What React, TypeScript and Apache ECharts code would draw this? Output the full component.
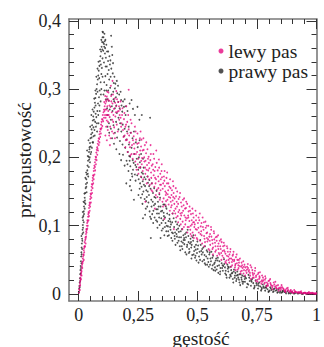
import React, { useEffect, useRef } from "react";
import * as echarts from "echarts";

const seriesNames = ["lewy pas", "prawy pas"];
const xLabel = "gęstość";
const yLabel = "przepustowość";

const xMajorTicks = [0, 0.25, 0.5, 0.75, 1];
const xMinorTicks = [0.05, 0.1, 0.15, 0.2, 0.3, 0.35, 0.4, 0.45, 0.55, 0.6, 0.65, 0.7, 0.8, 0.85, 0.9, 0.95];
const yMajorTicks = [0, 0.1, 0.2, 0.3, 0.4];
const yMinorTicks = [0.02, 0.04, 0.06, 0.08, 0.12, 0.14, 0.16, 0.18, 0.22, 0.24, 0.26, 0.28, 0.32, 0.34, 0.36, 0.38];

// prawy pas (black)
const prawyPas: number[][] = [
  [0.001,0.003],[0.002,0.008],[0.003,0.012],[0.004,0.017],[0.005,0.023],[0.006,0.019],[0.006,0.029],[0.007,0.035],[0.008,0.041],[0.009,0.038],
  [0.009,0.048],[0.010,0.055],[0.011,0.061],[0.012,0.058],[0.012,0.068],[0.013,0.074],[0.014,0.081],[0.015,0.078],[0.015,0.088],[0.016,0.094],
  [0.017,0.101],[0.018,0.097],[0.018,0.108],[0.019,0.114],[0.021,0.121],[0.022,0.117],[0.022,0.128],[0.024,0.134],[0.025,0.141],[0.026,0.137],
  [0.027,0.148],[0.029,0.155],[0.030,0.161],[0.032,0.157],[0.032,0.168],[0.034,0.175],[0.036,0.181],[0.038,0.176],[0.037,0.188],[0.039,0.195],
  [0.041,0.201],[0.044,0.197],[0.043,0.208],[0.045,0.215],[0.047,0.221],[0.050,0.216],[0.049,0.228],[0.052,0.234],[0.054,0.241],[0.057,0.236],
  [0.056,0.247],[0.059,0.254],[0.061,0.26],[0.064,0.255],[0.063,0.267],[0.066,0.273],[0.068,0.28],[0.071,0.276],[0.070,0.287],[0.073,0.293],
  [0.075,0.3],[0.079,0.296],[0.077,0.307],[0.080,0.314],[0.082,0.32],[0.086,0.316],[0.084,0.327],[0.087,0.334],[0.089,0.341],[0.093,0.336],
  [0.091,0.348],[0.094,0.355],[0.096,0.362],[0.099,0.358],[0.098,0.369],[0.100,0.376],[0.102,0.383],
  [0.004,0.01],[0.008,0.03],[0.011,0.045],[0.014,0.066],[0.019,0.09],[0.021,0.105],[0.025,0.125],[0.028,0.132],[0.033,0.149],[0.035,0.163],
  [0.04,0.172],[0.042,0.186],[0.047,0.193],[0.05,0.205],[0.055,0.214],[0.058,0.222],[0.062,0.231],[0.066,0.24],[0.069,0.252],[0.074,0.259],
  [0.078,0.268],[0.081,0.279],[0.085,0.288],[0.088,0.298],[0.092,0.31],[0.095,0.322],[0.097,0.331],[0.1,0.345],[0.103,0.356],[0.106,0.366],
  [0.109,0.37],[0.111,0.36],[0.113,0.333],[0.116,0.298],[0.12,0.285],[0.107,0.31],[0.1,0.318],[0.093,0.292],[0.087,0.276],[0.082,0.262],
  [0.076,0.25],[0.072,0.245],[0.067,0.232],[0.06,0.222],[0.052,0.208],[0.046,0.2],[0.031,0.178],[0.02,0.135],[0.016,0.112],[0.011,0.085],
  [0.035,0.21],[0.041,0.225],[0.048,0.245],[0.053,0.262],[0.058,0.27],[0.065,0.286],[0.07,0.298],[0.074,0.318],[0.079,0.33],[0.083,0.34],
  [0.09,0.358],[0.095,0.372],[0.071,0.264],[0.062,0.244],[0.054,0.229],[0.045,0.212],[0.038,0.202],[0.028,0.17],[0.024,0.147],[0.017,0.12],
  [0.1,0.384],[0.104,0.376],[0.108,0.381],[0.103,0.368],[0.107,0.362],[0.112,0.372],[0.116,0.365],[0.11,0.352],[0.114,0.346],[0.119,0.355],
  [0.123,0.341],[0.106,0.339],[0.118,0.333],[0.126,0.328],[0.131,0.336],[0.136,0.378],[0.139,0.362],[0.141,0.35],[0.121,0.322],[0.128,0.314],
  [0.134,0.318],[0.143,0.323],[0.147,0.309],[0.112,0.319],[0.117,0.306],[0.124,0.298],[0.132,0.302],[0.138,0.292],[0.145,0.296],[0.152,0.301],
  [0.156,0.288],[0.162,0.294],[0.149,0.282],[0.158,0.276],[0.166,0.281],[0.172,0.272],[0.178,0.284],[0.183,0.267],[0.19,0.274],[0.197,0.262],
  [0.205,0.268],[0.214,0.279],[0.222,0.284],[0.228,0.271],[0.236,0.262],[0.247,0.274],[0.255,0.255],[0.265,0.262],[0.3,0.258],[0.126,0.283],
  [0.13,0.27],[0.122,0.262],[0.135,0.255],[0.142,0.268],[0.104,0.292],[0.095,0.3],[0.088,0.268],[0.092,0.282],[0.083,0.25],[0.077,0.238],
  [0.124,0.355],[0.129,0.348],[0.133,0.342],[0.137,0.33],[0.144,0.338],[0.15,0.318],[0.154,0.308],[0.16,0.312],[0.165,0.305],[0.17,0.292],
  [0.176,0.296],[0.18,0.276],[0.186,0.282],[0.193,0.285],[0.198,0.275],[0.16,0.265],[0.167,0.258],[0.174,0.25],[0.185,0.248],[0.193,0.242],
  [0.203,0.238],[0.21,0.245],[0.218,0.236],[0.226,0.228],[0.232,0.238],[0.24,0.222],[0.248,0.215],[0.256,0.225],[0.262,0.205],[0.27,0.198],
  [0.139,0.275],[0.146,0.285],[0.152,0.272],[0.114,0.285],[0.119,0.272],[0.108,0.298],[0.127,0.25],
  [0.121,0.245],[0.128,0.236],[0.135,0.242],[0.14,0.228],[0.146,0.247],[0.152,0.236],[0.157,0.252],[0.161,0.229],[0.167,0.241],[0.173,0.224],
  [0.179,0.238],[0.184,0.219],[0.19,0.231],[0.195,0.214],[0.2,0.226],[0.206,0.208],[0.211,0.219],[0.216,0.201],[0.222,0.214],[0.227,0.196],
  [0.233,0.205],[0.238,0.189],[0.244,0.198],[0.25,0.182],[0.171,0.205],[0.178,0.196],[0.186,0.204],[0.193,0.188],[0.201,0.195],[0.209,0.18],
  [0.217,0.187],[0.225,0.172],[0.158,0.212],[0.148,0.22],
  [0.2,0.162],[0.217,0.167],[0.221,0.152],[0.279,0.116],[0.303,0.082],[0.344,0.082],[0.36,0.086],[0.27,0.111],[0.232,0.138],[0.215,0.158],
  [0.252,0.168],[0.256,0.154],[0.259,0.185],[0.263,0.171],[0.267,0.146],[0.27,0.176],[0.274,0.16],[0.277,0.139],[0.281,0.168],[0.284,0.152],
  [0.288,0.128],[0.291,0.163],[0.295,0.145],[0.298,0.121],
  [0.302,0.154],[0.305,0.138],[0.309,0.117],[0.312,0.148],[0.316,0.13],[0.319,0.112],[0.323,0.141],[0.326,0.124],[0.33,0.106],[0.333,0.135],
  [0.337,0.118],[0.34,0.101],[0.344,0.128],[0.347,0.111],
  [0.351,0.122],[0.354,0.096],[0.358,0.114],[0.361,0.131],[0.365,0.104],[0.368,0.092],[0.372,0.118],[0.375,0.099],[0.379,0.086],[0.382,0.11],
  [0.386,0.094],[0.389,0.082],[0.393,0.105],[0.396,0.089],
  [0.401,0.098],[0.404,0.081],[0.408,0.106],[0.411,0.088],[0.415,0.075],[0.418,0.096],[0.422,0.083],[0.425,0.07],[0.429,0.092],[0.432,0.077],
  [0.436,0.066],[0.44,0.086],[0.444,0.073],[0.448,0.061],
  [0.451,0.083],[0.455,0.069],[0.458,0.094],[0.462,0.076],[0.466,0.062],[0.47,0.081],[0.473,0.068],[0.477,0.057],[0.481,0.078],[0.485,0.063],
  [0.489,0.053],[0.493,0.072],[0.497,0.06],
  [0.502,0.071],[0.506,0.055],[0.511,0.079],[0.515,0.063],[0.52,0.048],[0.524,0.068],[0.529,0.057],[0.533,0.043],[0.538,0.064],[0.542,0.052],
  [0.547,0.04],[0.551,0.061],[0.556,0.048],[0.56,0.037],[0.565,0.056],[0.569,0.044],[0.574,0.034],[0.578,0.052],[0.583,0.041],[0.587,0.031],
  [0.592,0.048],[0.596,0.038],
  [0.601,0.045],[0.606,0.034],[0.611,0.051],[0.615,0.039],[0.62,0.028],[0.625,0.043],[0.629,0.033],[0.634,0.024],[0.639,0.04],[0.643,0.03],
  [0.648,0.022],[0.653,0.036],[0.657,0.027],[0.662,0.019],[0.667,0.033],[0.671,0.024],[0.676,0.017],[0.681,0.029],[0.685,0.021],[0.69,0.015],
  [0.695,0.026],[0.699,0.018],
  [0.704,0.023],[0.709,0.015],[0.714,0.028],[0.719,0.019],[0.724,0.012],[0.729,0.022],[0.734,0.016],[0.739,0.01],[0.744,0.02],[0.749,0.013],
  [0.754,0.008],[0.759,0.017],[0.764,0.011],[0.769,0.007],[0.774,0.014],[0.779,0.009],[0.784,0.005],[0.789,0.012],[0.794,0.007],[0.799,0.004],
  [0.805,0.01],[0.811,0.006],[0.817,0.003],[0.823,0.008],[0.829,0.005],[0.835,0.002],[0.841,0.007],[0.847,0.004],[0.853,0.002],[0.859,0.005],
  [0.865,0.003],[0.872,0.001],[0.878,0.004],[0.884,0.002],[0.89,0.001],[0.897,0.003],[0.904,0.001],[0.912,0.002],[0.92,0.001],[0.928,0.002],
  [0.936,0.001],[0.945,0.001],[0.954,0.001],[0.963,0.001],[0.972,0.0],[0.981,0.001],[0.99,0.0],
  [0.205,0.19],[0.212,0.202],[0.228,0.182],[0.236,0.175],[0.242,0.186],[0.258,0.162],[0.265,0.178],[0.272,0.15],[0.279,0.158],[0.286,0.142],
  [0.293,0.134],[0.306,0.128],[0.314,0.122],[0.321,0.132],[0.329,0.118],[0.338,0.112],[0.346,0.121],[0.355,0.108],[0.363,0.112],[0.37,0.1],
  [0.377,0.107],[0.384,0.098],[0.392,0.09],[0.405,0.09],[0.413,0.084],[0.42,0.078],[0.43,0.083],[0.438,0.075],[0.446,0.079],[0.456,0.072],
  [0.464,0.066],[0.475,0.072],[0.483,0.058],[0.492,0.065],[0.508,0.062],[0.517,0.058],[0.527,0.05],[0.536,0.055],[0.545,0.047],[0.554,0.052],
  [0.563,0.042],[0.572,0.046],[0.58,0.036],[0.59,0.042],[0.608,0.041],[0.618,0.034],[0.627,0.037],[0.637,0.028],[0.646,0.031],[0.656,0.024],
  [0.665,0.027],[0.674,0.021],[0.684,0.024],[0.693,0.018],
  [0.251,0.145],[0.257,0.193],[0.264,0.157],[0.268,0.132],[0.273,0.185],[0.282,0.125],[0.289,0.172],[0.296,0.158],[0.3,0.113],[0.307,0.162],
  [0.313,0.104],[0.318,0.142],[0.327,0.151],[0.331,0.097],[0.336,0.128],[0.342,0.141],[0.349,0.093],[0.356,0.131],[0.362,0.098],[0.369,0.125],
  [0.374,0.085],[0.381,0.116],[0.388,0.102],[0.394,0.078],[0.399,0.111],[0.407,0.072],[0.414,0.102],[0.421,0.091],[0.427,0.064],[0.434,0.095],
  [0.441,0.079],[0.447,0.088],[0.453,0.058],[0.461,0.085],[0.468,0.074],[0.474,0.052],[0.479,0.083],[0.487,0.069],[0.495,0.049],[0.499,0.077],
  [0.504,0.046],[0.513,0.072],[0.522,0.061],[0.531,0.07],[0.54,0.043],[0.549,0.058],[0.558,0.062],[0.567,0.035],[0.576,0.049],[0.585,0.053],
  [0.594,0.029],[0.603,0.038],[0.612,0.044],[0.622,0.024],[0.631,0.039],[0.641,0.035],[0.65,0.017],[0.659,0.031],[0.669,0.028],[0.679,0.013],
  [0.688,0.027],[0.698,0.022],[0.707,0.01],[0.717,0.024],[0.727,0.018],[0.737,0.008],[0.747,0.016],[0.757,0.012],[0.767,0.005],[0.777,0.011],
  [0.788,0.009],[0.798,0.003],[0.808,0.008],[0.82,0.004],[0.833,0.006],[0.846,0.002],[0.858,0.004],[0.87,0.003],[0.883,0.001],[0.895,0.002],
  [0.908,0.001],[0.925,0.001],[0.94,0.0],[0.96,0.0],[0.985,0.0],
  [0.214,0.195],[0.223,0.176],[0.231,0.192],[0.239,0.166],[0.246,0.174],[0.253,0.2],[0.261,0.141],[0.269,0.165],[0.276,0.171],[0.283,0.136],
  [0.29,0.15],[0.297,0.167],[0.304,0.11],[0.311,0.135],[0.317,0.155],[0.325,0.108],[0.332,0.124],[0.339,0.146],[0.348,0.104],[0.357,0.119],
  [0.366,0.128],[0.376,0.092],[0.385,0.106],[0.395,0.118],[0.403,0.085],[0.412,0.094],[0.423,0.1],[0.433,0.07],[0.443,0.082],[0.452,0.09],
  [0.463,0.06],[0.472,0.076],[0.482,0.086],[0.491,0.056],[0.5,0.066],[0.51,0.05],[0.519,0.066],[0.53,0.045],[0.541,0.062],[0.552,0.043],
  [0.562,0.053],[0.573,0.039],[0.584,0.049],[0.595,0.033],[0.605,0.042],[0.616,0.03],[0.628,0.04],[0.64,0.026],[0.652,0.033],[0.664,0.022],
  [0.676,0.029],[0.688,0.018],[0.7,0.025],[0.713,0.014],[0.726,0.02],[0.74,0.012],[0.755,0.015],[0.77,0.009],[0.786,0.01],[0.803,0.005],
  [0.82,0.007],[0.838,0.003],[0.856,0.003]
];

// lewy pas (magenta)
const lewyPas: number[][] = [
  [0.001,0.002],[0.002,0.007],[0.003,0.011],[0.004,0.006],[0.005,0.016],[0.006,0.019],[0.007,0.024],[0.008,0.021],[0.009,0.028],[0.010,0.031],
  [0.011,0.035],[0.012,0.033],[0.013,0.04],[0.014,0.043],[0.015,0.047],[0.016,0.045],[0.017,0.052],[0.018,0.055],[0.019,0.058],[0.021,0.057],
  [0.021,0.064],[0.022,0.067],[0.024,0.07],[0.025,0.069],[0.025,0.076],[0.027,0.079],[0.028,0.083],[0.029,0.081],[0.030,0.088],[0.031,0.092],
  [0.032,0.095],[0.034,0.094],[0.034,0.1],[0.035,0.104],[0.036,0.108],[0.038,0.106],[0.039,0.113],[0.040,0.117],[0.041,0.12],[0.043,0.119],
  [0.043,0.126],[0.044,0.13],[0.046,0.134],[0.047,0.132],[0.048,0.139],[0.049,0.143],[0.050,0.147],[0.052,0.146],[0.053,0.152],[0.054,0.157],
  [0.055,0.161],[0.057,0.16],[0.058,0.166],[0.059,0.17],[0.060,0.174],[0.062,0.173],[0.063,0.18],[0.064,0.184],[0.066,0.188],[0.068,0.186],
  [0.068,0.193],[0.070,0.197],[0.071,0.201],[0.073,0.2],[0.074,0.207],[0.076,0.211],[0.077,0.215],[0.079,0.213],[0.080,0.22],[0.082,0.224],
  [0.084,0.228],[0.086,0.227],[0.087,0.234],[0.089,0.238],[0.091,0.242],[0.093,0.241],[0.094,0.248],[0.096,0.252],[0.098,0.256],[0.1,0.255],
  [0.101,0.262],[0.104,0.266],[0.106,0.27],[0.108,0.268],[0.109,0.275],[0.112,0.279],[0.114,0.284],[0.116,0.282],[0.118,0.289],
  [0.003,0.006],[0.006,0.013],[0.009,0.022],[0.012,0.027],[0.015,0.038],[0.018,0.048],[0.021,0.05],[0.023,0.061],[0.026,0.07],[0.029,0.074],
  [0.031,0.084],[0.033,0.09],[0.036,0.096],[0.038,0.1],[0.041,0.108],[0.043,0.114],[0.046,0.122],[0.048,0.128],[0.051,0.134],[0.053,0.141],
  [0.056,0.148],[0.058,0.155],[0.061,0.162],[0.063,0.168],[0.066,0.175],[0.069,0.181],[0.072,0.19],[0.075,0.196],[0.078,0.204],[0.081,0.21],
  [0.084,0.218],[0.087,0.222],[0.09,0.23],[0.093,0.235],[0.096,0.243],[0.099,0.246],[0.103,0.253],[0.106,0.258],[0.11,0.262],[0.113,0.258],
  [0.117,0.27],[0.107,0.281],[0.111,0.29],[0.12,0.296],[0.123,0.285],
  [0.112,0.27],[0.116,0.262],[0.12,0.275],[0.118,0.254],[0.124,0.268],[0.127,0.283],[0.13,0.259],[0.133,0.274],[0.136,0.29],[0.139,0.266],
  [0.142,0.279],[0.145,0.252],[0.148,0.271],[0.151,0.286],[0.154,0.26],[0.157,0.275],[0.16,0.248],[0.163,0.267],[0.166,0.281],[0.17,0.255],
  [0.174,0.27],[0.178,0.245],[0.182,0.262],[0.186,0.24],[0.19,0.256],[0.135,0.305],[0.142,0.312],[0.21,0.299],[0.122,0.24],[0.128,0.232],
  [0.14,0.238],[0.152,0.228],[0.125,0.295],[0.158,0.297],[0.118,0.225],[0.131,0.218],[0.112,0.232],[0.146,0.262],[0.168,0.268],[0.176,0.258],
  [0.126,0.262],[0.129,0.276],[0.132,0.245],[0.137,0.282],[0.141,0.255],[0.144,0.292],[0.149,0.244],[0.153,0.28],[0.156,0.266],[0.161,0.285],
  [0.164,0.238],[0.169,0.275],[0.172,0.262],[0.176,0.282],[0.18,0.25],[0.184,0.272],[0.188,0.23],[0.192,0.265],[0.196,0.245],[0.2,0.275],
  [0.204,0.252],[0.208,0.262],[0.212,0.232],[0.218,0.255],[0.123,0.252],[0.134,0.228],[0.147,0.235],[0.115,0.245],[0.12,0.262],
  [0.193,0.232],[0.196,0.215],[0.199,0.248],[0.203,0.226],[0.206,0.208],[0.21,0.241],[0.213,0.222],[0.217,0.203],[0.22,0.236],[0.224,0.218],
  [0.227,0.198],[0.231,0.231],[0.234,0.213],[0.238,0.194],[0.241,0.226],[0.245,0.208],[0.248,0.19],
  [0.252,0.221],[0.255,0.204],[0.259,0.186],[0.262,0.216],[0.266,0.199],[0.269,0.18],[0.273,0.211],[0.276,0.194],[0.28,0.176],[0.283,0.206],
  [0.287,0.189],[0.29,0.172],[0.294,0.201],[0.297,0.184],
  [0.301,0.196],[0.304,0.178],[0.308,0.162],[0.311,0.19],[0.315,0.174],[0.318,0.157],[0.322,0.186],[0.325,0.168],[0.329,0.153],[0.332,0.181],
  [0.336,0.165],[0.339,0.148],[0.343,0.176],[0.346,0.16],
  [0.35,0.171],[0.353,0.154],[0.357,0.14],[0.36,0.166],[0.364,0.15],[0.367,0.136],[0.371,0.162],[0.374,0.146],[0.378,0.131],[0.381,0.157],
  [0.385,0.141],[0.388,0.127],[0.392,0.152],[0.395,0.137],
  [0.399,0.148],[0.402,0.132],[0.406,0.118],[0.409,0.143],[0.413,0.128],[0.416,0.114],[0.42,0.139],[0.423,0.123],[0.427,0.11],[0.43,0.134],
  [0.434,0.119],[0.437,0.106],[0.441,0.13],[0.444,0.115],[0.448,0.102],
  [0.451,0.126],[0.455,0.111],[0.458,0.098],[0.462,0.121],[0.465,0.107],[0.469,0.094],[0.472,0.117],[0.476,0.102],[0.479,0.09],[0.483,0.112],
  [0.486,0.098],[0.49,0.086],[0.493,0.108],[0.497,0.094],
  [0.501,0.104],[0.505,0.09],[0.509,0.118],[0.513,0.099],[0.517,0.086],[0.521,0.112],[0.525,0.094],[0.529,0.081],[0.533,0.106],[0.537,0.089],
  [0.541,0.077],[0.545,0.1],[0.549,0.084],[0.553,0.072],[0.557,0.094],[0.561,0.079],[0.565,0.068],[0.569,0.089],[0.573,0.075],[0.577,0.064],
  [0.581,0.084],[0.585,0.07],[0.589,0.06],[0.593,0.078],[0.597,0.066],
  [0.601,0.076],[0.605,0.063],[0.609,0.053],[0.613,0.071],[0.617,0.059],[0.621,0.049],[0.625,0.067],[0.629,0.055],[0.633,0.046],[0.637,0.062],
  [0.641,0.052],[0.645,0.042],[0.649,0.058],[0.653,0.048],[0.657,0.039],[0.661,0.054],[0.665,0.045],[0.669,0.036],[0.673,0.05],[0.677,0.041],
  [0.681,0.033],[0.685,0.046],[0.689,0.038],[0.693,0.03],[0.697,0.043],
  [0.701,0.039],[0.706,0.031],[0.711,0.044],[0.716,0.035],[0.721,0.027],[0.726,0.039],[0.731,0.031],[0.736,0.024],[0.741,0.034],[0.746,0.027],
  [0.751,0.021],[0.756,0.031],[0.761,0.024],[0.766,0.018],[0.771,0.027],[0.776,0.02],[0.781,0.015],[0.786,0.023],[0.791,0.017],[0.796,0.012],
  [0.802,0.02],[0.808,0.014],[0.814,0.01],[0.82,0.017],[0.826,0.011],[0.832,0.008],[0.838,0.013],[0.844,0.009],[0.85,0.006],[0.856,0.01],
  [0.862,0.007],[0.868,0.004],[0.874,0.008],[0.88,0.005],[0.886,0.003],[0.892,0.006],[0.898,0.004],[0.904,0.002],[0.91,0.004],[0.917,0.003],
  [0.924,0.002],[0.931,0.003],[0.938,0.002],[0.945,0.001],[0.952,0.002],[0.959,0.001],[0.966,0.002],[0.973,0.001],[0.98,0.001],[0.987,0.001],
  [0.994,0.0],[0.999,0.001],
  [0.198,0.225],[0.205,0.235],[0.215,0.215],[0.222,0.205],[0.232,0.22],[0.24,0.205],[0.25,0.198],[0.258,0.21],[0.265,0.19],[0.275,0.2],
  [0.285,0.182],[0.295,0.192],[0.305,0.17],[0.313,0.182],[0.323,0.162],[0.334,0.172],[0.344,0.152],[0.355,0.162],[0.366,0.145],[0.376,0.152],
  [0.387,0.135],[0.397,0.142],[0.407,0.125],[0.418,0.132],[0.428,0.118],[0.439,0.122],[0.45,0.108],[0.46,0.115],[0.471,0.1],[0.481,0.105],
  [0.492,0.095],[0.503,0.097],[0.515,0.092],[0.527,0.085],[0.539,0.082],[0.551,0.078],[0.563,0.074],[0.575,0.07],[0.587,0.066],[0.599,0.06],
  [0.611,0.064],[0.623,0.056],[0.635,0.052],[0.647,0.05],[0.659,0.044],[0.671,0.042],[0.683,0.04],[0.695,0.035],[0.708,0.036],[0.72,0.031],
  [0.733,0.028],[0.745,0.025],[0.758,0.022],[0.77,0.02],[0.783,0.017],[0.795,0.015],[0.81,0.012],[0.83,0.009],[0.85,0.008],[0.87,0.006],
  [0.89,0.004],[0.91,0.003],[0.93,0.002],[0.95,0.002],[0.97,0.001],
  [0.28,0.135],[0.32,0.125],[0.36,0.11],[0.4,0.095],
  [0.222,0.25],[0.228,0.225],[0.236,0.245],[0.243,0.182],[0.247,0.235],[0.253,0.185],[0.257,0.228],[0.261,0.172],[0.264,0.226],[0.268,0.21],
  [0.271,0.168],[0.278,0.218],[0.281,0.195],[0.286,0.162],[0.289,0.212],[0.292,0.181],[0.299,0.16],[0.303,0.205],[0.307,0.188],[0.31,0.15],
  [0.317,0.198],[0.321,0.17],[0.324,0.145],[0.328,0.192],[0.335,0.155],[0.338,0.185],[0.341,0.138],[0.345,0.168],[0.348,0.18],[0.352,0.135],
  [0.358,0.172],[0.362,0.158],[0.365,0.13],[0.369,0.17],[0.373,0.138],[0.377,0.162],[0.383,0.122],[0.386,0.155],[0.39,0.145],[0.394,0.118],
  [0.398,0.158],[0.403,0.14],[0.41,0.112],[0.414,0.15],[0.419,0.12],[0.424,0.142],[0.429,0.102],[0.433,0.128],[0.438,0.138],[0.442,0.098],
  [0.447,0.125],[0.452,0.135],[0.457,0.09],[0.461,0.112],[0.466,0.128],[0.47,0.088],[0.475,0.108],[0.48,0.118],[0.484,0.082],[0.488,0.102],
  [0.494,0.115],[0.499,0.08],[0.504,0.112],[0.51,0.078],[0.516,0.104],[0.522,0.098],[0.528,0.07],[0.534,0.097],[0.54,0.09],[0.546,0.066],
  [0.552,0.088],[0.558,0.084],[0.564,0.058],[0.57,0.08],[0.576,0.083],[0.582,0.056],[0.588,0.074],[0.595,0.07],[0.6,0.05],[0.607,0.07],
  [0.614,0.062],[0.62,0.045],[0.627,0.062],[0.634,0.058],[0.64,0.04],[0.647,0.056],[0.654,0.05],[0.66,0.035],[0.667,0.05],[0.674,0.046],
  [0.68,0.03],[0.687,0.042],[0.694,0.04],[0.7,0.027],[0.708,0.04],[0.715,0.033],[0.723,0.022],[0.73,0.035],[0.738,0.03],[0.745,0.019],
  [0.753,0.029],[0.76,0.026],[0.768,0.015],[0.775,0.024],[0.783,0.021],[0.79,0.011],[0.798,0.019],[0.806,0.016],[0.815,0.007],[0.823,0.014],
  [0.832,0.012],[0.841,0.005],[0.85,0.01],[0.86,0.008],[0.87,0.003],[0.88,0.006],[0.89,0.005],[0.9,0.002],[0.912,0.003],[0.925,0.003],
  [0.937,0.001],[0.948,0.002],[0.962,0.001],[0.976,0.002],[0.99,0.001],
  [0.233,0.205],[0.239,0.238],[0.246,0.22],[0.251,0.176],[0.26,0.238],[0.263,0.195],[0.272,0.228],[0.279,0.185],[0.284,0.222],[0.291,0.198],
  [0.296,0.168],[0.302,0.218],[0.306,0.152],[0.314,0.205],[0.319,0.18],[0.326,0.21],[0.331,0.142],[0.337,0.197],[0.342,0.16],[0.349,0.19],
  [0.354,0.128],[0.361,0.18],[0.368,0.148],[0.372,0.178],[0.379,0.142],[0.384,0.168],[0.391,0.13],[0.396,0.165],[0.401,0.122],[0.408,0.155],
  [0.412,0.135],[0.418,0.105],[0.426,0.148],[0.431,0.115],[0.436,0.095],[0.443,0.14],[0.449,0.112],[0.456,0.132],[0.463,0.098],[0.468,0.122],
  [0.474,0.085],[0.478,0.125],[0.485,0.105],[0.491,0.122],[0.496,0.082],[0.507,0.108],[0.512,0.088],[0.519,0.074],[0.526,0.105],[0.531,0.076],
  [0.538,0.1],[0.544,0.08],[0.55,0.064],[0.556,0.098],[0.562,0.066],[0.568,0.092],[0.574,0.062],[0.58,0.078],[0.586,0.086],[0.592,0.058],
  [0.598,0.08],[0.604,0.056],[0.61,0.075],[0.616,0.047],[0.623,0.07],[0.63,0.05],[0.638,0.066],[0.644,0.047],[0.651,0.062],[0.658,0.042],
  [0.664,0.058],[0.672,0.038],[0.678,0.052],[0.686,0.034],[0.692,0.048],[0.703,0.034],[0.712,0.038],[0.722,0.042],[0.732,0.024],[0.742,0.038],
  [0.752,0.018],[0.762,0.032],[0.773,0.018],[0.784,0.026],[0.794,0.013],[0.805,0.022],[0.816,0.012],[0.827,0.018],[0.839,0.008],[0.853,0.013],
  [0.866,0.005],[0.879,0.009],[0.895,0.003],[0.906,0.006],[0.92,0.002],[0.935,0.004],[0.955,0.001],[0.968,0.003],[0.983,0.002],[0.996,0.001]
];

const FONT = "Liberation Serif";
const MAGENTA = "#e5097f";
const BLACK = "#262626";
const AXIS_GRAY = "#7a7a7a";
const TICK = "#333333";

const fmt = (v: number) => String(v).replace(".", ",");

const X_MIN = -0.041;
const X_MAX = 1.0;
const Y_MIN = -0.0102;
const Y_MAX = 0.4026;

function xAxisDef(position: string, ticks: number[], len: number, line: boolean, labels: boolean) {
  return {
    type: "value",
    position,
    min: X_MIN,
    max: X_MAX,
    axisLine: { show: line, onZero: false, lineStyle: { color: AXIS_GRAY, width: 1.6 } },
    axisTick: { show: true, inside: true, length: len, customValues: ticks, lineStyle: { color: TICK, width: 1 } },
    axisLabel: labels
      ? { show: true, customValues: ticks, formatter: fmt, margin: 5, fontFamily: FONT, fontSize: 18, color: "#222" }
      : { show: false },
    splitLine: { show: false },
  };
}

function yAxisDef(position: string, ticks: number[], len: number, line: boolean, labels: boolean) {
  return {
    type: "value",
    position,
    min: Y_MIN,
    max: Y_MAX,
    axisLine: { show: line, onZero: false, lineStyle: { color: AXIS_GRAY, width: 1.6 } },
    axisTick: { show: true, inside: true, length: len, customValues: ticks, lineStyle: { color: TICK, width: 1 } },
    axisLabel: labels
      ? { show: true, customValues: ticks, formatter: fmt, margin: 8, fontFamily: FONT, fontSize: 18, color: "#222" }
      : { show: false },
    splitLine: { show: false },
  };
}

export default function App() {
  const ref = useRef<HTMLDivElement>(null);
  useEffect(() => {
    if (!ref.current) return;
    const chart = echarts.init(ref.current, null, { renderer: "svg" });
    chart.setOption({
      animation: false,
      backgroundColor: "#ffffff",
      textStyle: { fontFamily: FONT },
      grid: { left: 69, right: 0.5, top: 19, bottom: 46, containLabel: false },
      xAxis: [
        xAxisDef("bottom", xMajorTicks, 10, true, true),
        xAxisDef("bottom", xMinorTicks, 5, false, false),
        xAxisDef("top", xMajorTicks, 10, true, false),
        xAxisDef("top", xMinorTicks, 5, false, false),
      ],
      yAxis: [
        yAxisDef("left", yMajorTicks, 10, true, true),
        yAxisDef("left", yMinorTicks, 5, false, false),
        yAxisDef("right", yMajorTicks, 10, true, false),
        yAxisDef("right", yMinorTicks, 5, false, false),
      ],
      legend: {
        data: seriesNames,
        orient: "vertical",
        left: 218.5,
        top: 41,
        itemWidth: 5,
        itemHeight: 5,
        itemGap: 0,
        icon: "circle",
        padding: 0,
        textStyle: { fontFamily: FONT, fontSize: 19.5, color: "#222", lineHeight: 17 },
      },
      graphic: [
        {
          type: "text",
          x: 201,
          y: 338,
          style: { text: xLabel, font: "19.5px Liberation Serif", fill: "#222", align: "center", verticalAlign: "middle" },
        },
        {
          type: "text",
          x: 24,
          y: 160,
          rotation: Math.PI / 2,
          style: { text: yLabel, font: "19.5px Liberation Serif", fill: "#222", align: "center", verticalAlign: "middle" },
        },
      ],
      series: [
        {
          name: seriesNames[1],
          type: "scatter",
          xAxisIndex: 0,
          yAxisIndex: 0,
          data: prawyPas,
          symbolSize: 1.8,
          itemStyle: { color: BLACK },
          silent: true,
        },
        {
          name: seriesNames[0],
          type: "scatter",
          xAxisIndex: 0,
          yAxisIndex: 0,
          data: lewyPas,
          symbolSize: 1.8,
          itemStyle: { color: MAGENTA },
          silent: true,
        },
      ],
    });
    return () => chart.dispose();
  }, []);
  return (
    <div
      ref={ref}
      style={{ position: "absolute", left: 0, top: 0, width: 324, height: 347, background: "#fff" }}
    />
  );
}
